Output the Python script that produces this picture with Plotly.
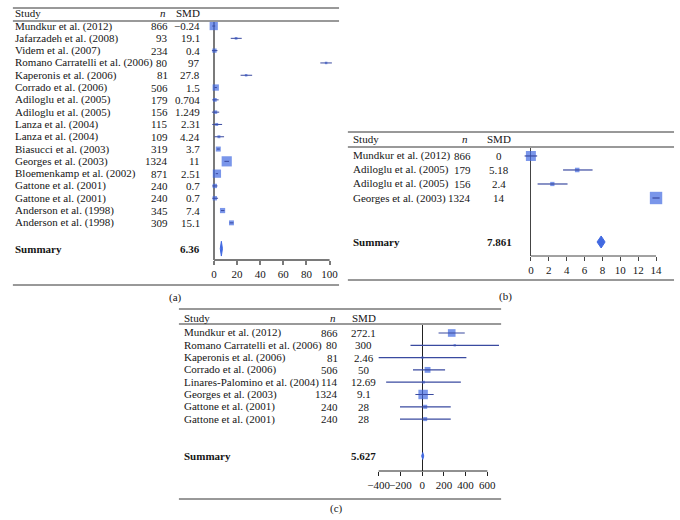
import math
import plotly.graph_objects as go

# (a) all studies
studies_a = ["Mundkur et al. (2012)", "Jafarzadeh et al. (2008)", "Videm et al. (2007)",
             "Romano Carratelli et al. (2006)", "Kaperonis et al. (2006)", "Corrado et al. (2006)",
             "Adiloglu et al. (2005)", "Adiloglu et al. (2005)", "Lanza et al. (2004)",
             "Lanza et al. (2004)", "Biasucci et al. (2003)", "Georges et al. (2003)",
             "Bloemenkamp et al. (2002)", "Gattone et al. (2001)", "Gattone et al. (2001)",
             "Anderson et al. (1998)", "Anderson et al. (1998)"]
n_a = [866, 93, 234, 80, 81, 506, 179, 156, 115, 109, 319, 1324, 871, 240, 240, 345, 309]
smd_a = [-0.24, 19.1, 0.4, 97, 27.8, 1.5, 0.704, 1.249, 2.31, 4.24, 3.7, 11, 2.51, 0.7, 0.7, 7.4, 15.1]
lo_a = [-1.5, 14.5, -1.8, 92, 23, 0.5, -1.5, -1.8, -1.5, 0.3, 2.5, 9, 1.5, -1.5, -1.5, 6, 13.5]
hi_a = [1.0, 24, 3.0, 102, 33, 2.5, 4.0, 4.5, 7, 8.7, 5, 13, 3.5, 3.0, 3.5, 9, 16.8]
summary_a = 6.36
summary_ci_a = [5.4, 7.3]
ticks_a = [0, 20, 40, 60, 80, 100]

# (b)
studies_b = ["Mundkur et al. (2012)", "Adiloglu et al. (2005)", "Adiloglu et al. (2005)",
             "Georges et al. (2003)"]
n_b = [866, 179, 156, 1324]
smd_b = [0, 5.18, 2.4, 14]
lo_b = [-0.7, 3.6, 0.75, 13.6]
hi_b = [0.7, 6.9, 4.1, 14.4]
summary_b = 7.861
summary_ci_b = [7.4, 8.3]
ticks_b = [0, 2, 4, 6, 8, 10, 12, 14]

# (c)
studies_c = ["Mundkur et al. (2012)", "Romano Carratelli et al. (2006)", "Kaperonis et al. (2006)",
             "Corrado et al. (2006)", "Linares-Palomino et al. (2004)", "Georges et al. (2003)",
             "Gattone et al. (2001)", "Gattone et al. (2001)"]
n_c = [866, 80, 81, 506, 114, 1324, 240, 240]
smd_c = [272.1, 300, 2.46, 50, 12.69, 9.1, 28, 28]
lo_c = [151, -107, -400, -84, -331, -62, -204, -204]
hi_c = [392, 707, 407, 211, 356, 106, 263, 263]
summary_c = 5.627
summary_ci_c = [-4, 15]
ticks_c = [-400, -200, 0, 200, 400, 600]

W, H = 680, 520
FONT = "Liberation Serif, Times New Roman, serif"
BLUE = "#4169e1"
CI_COL = "#3a4aa0"
TXT = "#151515"


def px(x):
    return x / W


def py(y):
    return 1 - y / H


def fmt(v):
    return f"{v:g}".replace("-", "\u2212")


fig = go.Figure()
annotations = []
shapes = []


def add_panel(i, studies, n, smd, lo, hi, summ, summ_ci, ticks, xr, xpx, ypx, yr, gap,
              k, dh, cols, axcol, axw, ciw, rules, label):
    xa = "x" if i == 1 else f"x{i}"
    ya = "y" if i == 1 else f"y{i}"
    rows = list(range(len(studies)))
    srow = len(studies) - 1 + gap
    sizes = [k * math.sqrt(v) for v in n]

    fig.add_trace(go.Scatter(x=smd, y=rows, mode="markers", xaxis=xa, yaxis=ya,
                             marker=dict(symbol="square", size=sizes, color=BLUE, line=dict(width=0)),
                             cliponaxis=False, hoverinfo="skip", showlegend=False))
    cx, cy = [], []
    for l, h, r in zip(lo, hi, rows):
        cx += [l, h, None]
        cy += [r, r, None]
    fig.add_trace(go.Scatter(x=cx, y=cy, mode="lines", xaxis=xa, yaxis=ya,
                             line=dict(color=CI_COL, width=ciw), hoverinfo="skip", showlegend=False))
    fig.add_trace(go.Scatter(x=[summ_ci[0], summ, summ_ci[1], summ, summ_ci[0]],
                             y=[srow, srow - dh, srow, srow + dh, srow],
                             mode="lines", fill="toself", fillcolor=BLUE, xaxis=xa, yaxis=ya,
                             line=dict(color=BLUE, width=1), hoverinfo="skip", showlegend=False))

    ydom = [py(ypx[1]), py(ypx[0])]
    fig.update_layout(**{
        ("xaxis" if i == 1 else f"xaxis{i}"): dict(
            domain=[px(xpx[0]), px(xpx[1])], range=xr, anchor=ya,
            tickvals=ticks, ticktext=[fmt(t) for t in ticks], tickangle=0,
            ticks="outside", ticklen=4, tickwidth=axw, tickcolor=axcol,
            showline=False, showgrid=False,
            zeroline=True, zerolinecolor=axcol, zerolinewidth=axw,
            tickfont=dict(family=FONT, size=11, color=TXT), fixedrange=True),
        ("yaxis" if i == 1 else f"yaxis{i}"): dict(
            domain=ydom, range=yr, anchor=xa, visible=False, fixedrange=True),
    })
    # axis baseline spanning the tick range
    shapes.append(dict(type="line", xref=xa, yref="paper", x0=ticks[0], x1=ticks[-1],
                       y0=ydom[0], y1=ydom[0], line=dict(color=axcol, width=axw)))

    # table rules
    x0, x1, ytop, yhead, ybot = rules
    for yy, col, w in [(ytop, "#333333", 1), (yhead, "#999999", 2), (ybot, "#333333", 1)]:
        shapes.append(dict(type="line", xref="paper", yref="paper", x0=px(x0), x1=px(x1),
                           y0=py(yy), y1=py(yy), line=dict(color=col, width=w)))

    study_x, n_x, n_head_x, smd_x, smd_anchor, head_y = cols
    f = dict(family=FONT, size=11, color=TXT)
    annotations.append(dict(text="Study", x=px(study_x), y=py(head_y), xref="paper", yref="paper",
                            xanchor="left", yanchor="middle", showarrow=False, font=f))
    annotations.append(dict(text="<i>n</i>", x=px(n_head_x), y=py(head_y), xref="paper", yref="paper",
                            xanchor="center", yanchor="middle", showarrow=False, font=f))
    annotations.append(dict(text="SMD", x=px(smd_x), y=py(head_y), xref="paper", yref="paper",
                            xanchor=smd_anchor, yanchor="middle", showarrow=False, font=f))
    for r, s, nn, v in zip(rows, studies, n, smd):
        annotations.append(dict(text=s, x=px(study_x), y=r, xref="paper", yref=ya,
                                xanchor="left", yanchor="middle", showarrow=False, font=f))
        annotations.append(dict(text=str(nn), x=px(n_x), y=r, xref="paper", yref=ya,
                                xanchor="right", yanchor="middle", showarrow=False, font=f))
        annotations.append(dict(text=fmt(v), x=px(smd_x), y=r, xref="paper", yref=ya,
                                xanchor=smd_anchor, yanchor="middle", showarrow=False, font=f))
    annotations.append(dict(text="<b>Summary</b>", x=px(study_x), y=srow, xref="paper", yref=ya,
                            xanchor="left", yanchor="middle", showarrow=False, font=f))
    annotations.append(dict(text=f"<b>{fmt(summ)}</b>", x=px(smd_x), y=srow, xref="paper", yref=ya,
                            xanchor=smd_anchor, yanchor="middle", showarrow=False, font=f))
    lx, ly = label
    annotations.append(dict(text=f"({'abc'[i - 1]})", x=px(lx), y=py(ly), xref="paper", yref="paper",
                            xanchor="center", yanchor="middle", showarrow=False, font=f))


add_panel(1, studies_a, n_a, smd_a, lo_a, hi_a, summary_a, summary_ci_a, ticks_a,
          xr=[-3, 103], xpx=[207.2, 331.9], ypx=[21, 260], yr=[19.02, -0.41], gap=2.1,
          k=0.28, dh=0.6, cols=(6, 166, 159, 199, "right", 13),
          axcol="#7a7a7a", axw=2, ciw=1, rules=(6, 338, 8, 21, 285), label=(172, 297))
add_panel(2, studies_b, n_b, smd_b, lo_b, hi_b, summary_b, summary_ci_b, ticks_b,
          xr=[-1, 15], xpx=[524.2, 669.8], ypx=[147, 256], yr=[7.14, -0.64], gap=3.14,
          k=0.34, dh=0.43, cols=(350, 474, 466, 501, "center", 139),
          axcol="#444444", axw=1, ciw=1.2, rules=(347, 679, 132, 147, 280), label=(507, 296))
add_panel(3, studies_c, n_c, smd_c, lo_c, hi_c, summary_c, summary_ci_c, ticks_c,
          xr=[-440, 760], xpx=[373.9, 506.7], ypx=[324, 471], yr=[11.22, -0.73], gap=3.0,
          k=0.26, dh=0.28, cols=(178, 339, 332, 363, "center", 318),
          axcol="#222222", axw=1, ciw=1.2, rules=(175, 503, 309, 324, 499), label=(335, 508))

fig.update_layout(width=W, height=H, margin=dict(l=0, r=0, t=0, b=0),
                  paper_bgcolor="white", plot_bgcolor="white",
                  showlegend=False, annotations=annotations, shapes=shapes,
                  font=dict(family=FONT, size=11, color=TXT))

# the page body has a default 8px margin; remove it so the figure sits at the window origin
fig.write_html("out.html", config={"displayModeBar": False},
               post_script="document.body.style.margin='0';document.body.style.overflow='hidden';")
